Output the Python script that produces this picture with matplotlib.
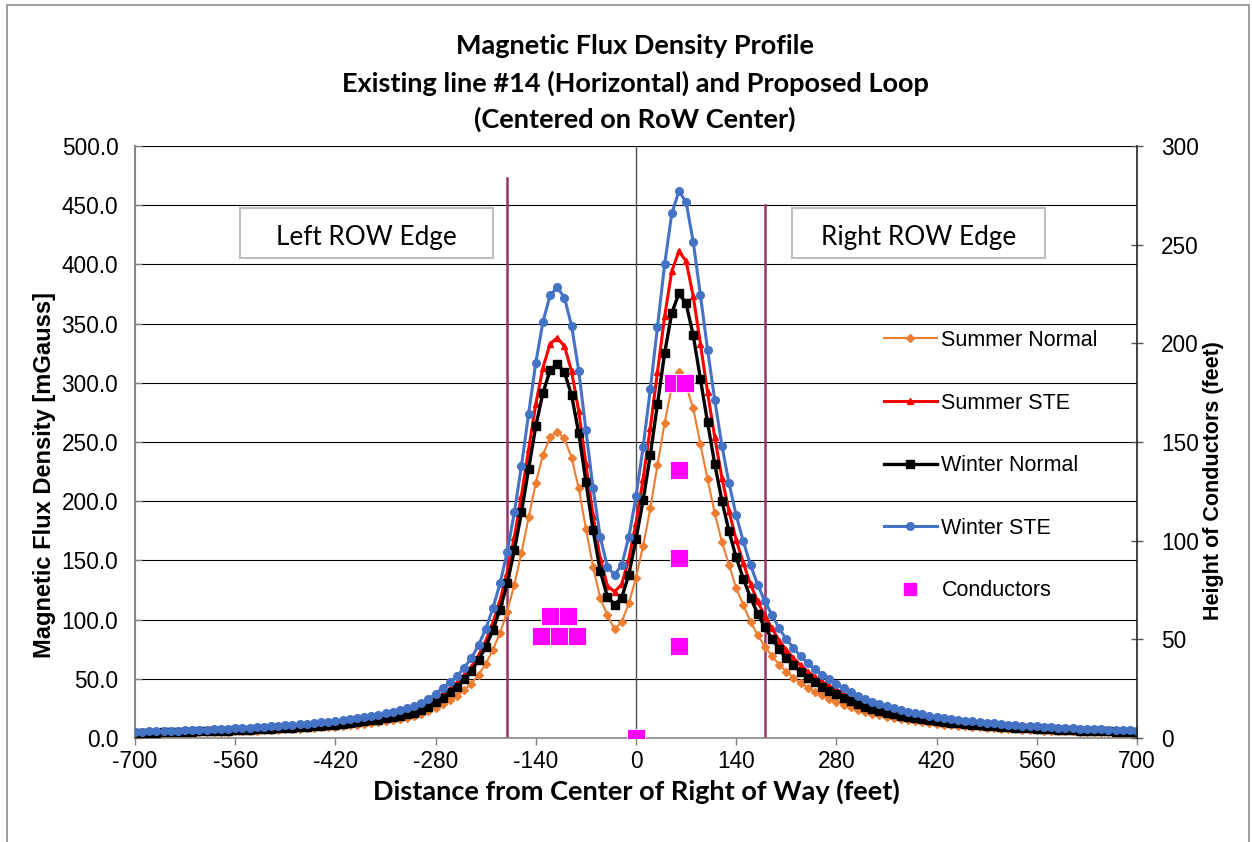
import matplotlib
matplotlib.use("Agg")
import matplotlib.pyplot as plt
from matplotlib.patches import Rectangle
from matplotlib.lines import Line2D

# ---------------- data ----------------
distance_ft = list(range(-700, 701, 10))

summer_normal = [
    3.6, 3.7, 3.8, 3.9, 4.0, 4.1, 4.3, 4.4, 4.6, 4.7,
    4.8, 5.0, 5.2, 5.4, 5.5, 5.7, 5.9, 6.2, 6.4, 6.7,
    6.9, 7.2, 7.5, 7.8, 8.2, 8.5, 8.9, 9.3, 9.7, 10.2,
    10.7, 11.3, 11.9, 12.6, 13.3, 14.1, 15.0, 15.9, 17.0, 18.2,
    19.9, 22.4, 25.5, 28.6, 32.0, 35.7, 40.5, 45.9, 53.4, 62.6,
    74.5, 88.7, 106.8, 129.5, 156.4, 186.3, 215.6, 239.0, 254.3, 258.7,
    253.0, 236.6, 210.8, 176.8, 144.7, 118.0, 104.0, 91.8, 98.0, 113.8,
    135.5, 162.5, 194.0, 230.6, 266.0, 297.0, 309.0, 297.5, 278.5, 248.0,
    218.5, 190.0, 165.8, 146.0, 126.4, 112.3, 98.2, 87.0, 77.0, 69.5,
    62.0, 56.0, 51.0, 46.3, 42.3, 38.9, 35.9, 33.2, 30.8, 28.1,
    25.8, 23.7, 21.9, 20.4, 19.1, 17.9, 16.8, 15.8, 14.9, 14.1,
    13.3, 12.6, 12.0, 11.4, 10.9, 10.3, 9.8, 9.4, 9.0, 8.6,
    8.2, 7.9, 7.6, 7.3, 7.0, 6.8, 6.6, 6.3, 6.1, 5.9,
    5.7, 5.5, 5.3, 5.2, 5.0, 4.8, 4.7, 4.6, 4.4, 4.3,
    4.2]

summer_ste = [
    4.7, 4.8, 5.0, 5.1, 5.2, 5.4, 5.6, 5.8, 5.9, 6.1,
    6.3, 6.5, 6.7, 7.0, 7.2, 7.4, 7.7, 8.1, 8.3, 8.7,
    9.0, 9.4, 9.7, 10.2, 10.6, 11.1, 11.6, 12.1, 12.7, 13.3,
    14.0, 14.7, 15.5, 16.4, 17.3, 18.3, 19.5, 20.7, 22.2, 23.7,
    26.0, 29.3, 33.3, 37.3, 41.8, 46.7, 52.9, 60.0, 69.8, 81.8,
    97.4, 116.1, 139.7, 169.5, 204.7, 243.9, 282.1, 312.8, 332.9, 338.0,
    331.0, 309.7, 275.9, 231.4, 187.8, 151.3, 128.6, 123.5, 129.9, 151.3,
    181.6, 219.0, 262.1, 309.3, 356.0, 394.3, 411.2, 402.7, 372.9, 332.9,
    291.9, 254.1, 219.8, 191.4, 167.3, 147.7, 129.9, 115.3, 102.8, 92.6,
    82.3, 74.3, 67.6, 61.4, 56.1, 51.6, 47.6, 44.1, 40.9, 37.4,
    34.3, 31.4, 29.1, 27.1, 25.4, 23.8, 22.3, 21.0, 19.8, 18.7,
    17.7, 16.7, 15.9, 15.1, 14.4, 13.7, 13.1, 12.5, 11.9, 11.5,
    10.9, 10.5, 10.1, 9.7, 9.3, 9.0, 8.7, 8.4, 8.1, 7.8,
    7.6, 7.3, 7.0, 6.9, 6.6, 6.4, 6.2, 6.1, 5.9, 5.7,
    5.5]

winter_normal = [
    4.2, 4.3, 4.5, 4.6, 4.7, 4.9, 5.0, 5.2, 5.4, 5.5,
    5.7, 5.9, 6.1, 6.3, 6.5, 6.7, 7.0, 7.3, 7.5, 7.8,
    8.2, 8.5, 8.8, 9.2, 9.6, 10.0, 10.5, 11.0, 11.4, 12.0,
    12.6, 13.3, 14.0, 14.8, 15.6, 16.6, 17.6, 18.7, 20.0, 21.4,
    23.4, 26.6, 30.4, 34.2, 38.5, 43.3, 49.5, 56.5, 66.0, 77.0,
    91.0, 108.5, 130.5, 158.5, 190.5, 227.5, 263.5, 291.5, 310.5, 316.0,
    309.0, 289.5, 257.5, 216.5, 175.5, 141.0, 119.5, 112.5, 118.5, 138.0,
    168.0, 201.0, 239.0, 282.0, 325.0, 359.0, 375.5, 367.0, 340.0, 303.5,
    266.5, 231.5, 200.5, 174.5, 152.5, 134.5, 118.5, 105.0, 93.5, 84.0,
    75.0, 67.5, 61.5, 56.0, 51.0, 47.0, 43.3, 40.0, 37.0, 34.0,
    31.0, 28.3, 26.2, 24.4, 22.8, 21.4, 20.0, 18.9, 17.8, 16.8,
    15.9, 15.0, 14.3, 13.6, 13.0, 12.3, 11.8, 11.2, 10.7, 10.3,
    9.8, 9.4, 9.1, 8.7, 8.4, 8.1, 7.8, 7.5, 7.3, 7.0,
    6.8, 6.6, 6.3, 6.2, 5.9, 5.8, 5.6, 5.4, 5.3, 5.1,
    5.0]

winter_ste = [
    5.3, 5.4, 5.6, 5.8, 5.9, 6.1, 6.3, 6.5, 6.7, 6.9,
    7.1, 7.4, 7.6, 7.9, 8.1, 8.4, 8.7, 9.1, 9.4, 9.8,
    10.2, 10.6, 11.0, 11.5, 12.0, 12.5, 13.1, 13.7, 14.3, 15.0,
    15.8, 16.6, 17.5, 18.5, 19.5, 20.7, 22.0, 23.4, 25.0, 26.8,
    29.3, 33.0, 37.5, 42.0, 47.0, 52.5, 59.5, 67.5, 78.5, 92.0,
    109.5, 130.5, 157.0, 190.5, 230.0, 274.0, 317.0, 351.5, 374.0, 380.5,
    372.0, 348.0, 310.0, 260.0, 211.0, 170.0, 144.5, 138.0, 146.0, 170.0,
    204.0, 246.0, 294.5, 347.5, 400.0, 443.0, 462.0, 452.5, 419.0, 374.0,
    328.0, 285.5, 247.0, 215.0, 188.0, 166.0, 146.0, 129.5, 115.5, 104.0,
    92.5, 83.5, 76.0, 69.0, 63.0, 58.0, 53.5, 49.5, 46.0, 42.0,
    38.5, 35.3, 32.7, 30.5, 28.5, 26.7, 25.0, 23.6, 22.2, 21.0,
    19.9, 18.8, 17.9, 17.0, 16.2, 15.4, 14.7, 14.0, 13.4, 12.9,
    12.3, 11.8, 11.4, 10.9, 10.5, 10.1, 9.8, 9.4, 9.1, 8.8,
    8.5, 8.2, 7.9, 7.7, 7.4, 7.2, 7.0, 6.8, 6.6, 6.4,
    6.2]

conductor_x = [-133, -107, -82, -120, -95, 51, 69, 60, 60, 60, 0]
conductor_height = [51.5, 51.5, 51.5, 62, 62, 180, 180, 136, 91, 46.5, 0]

row_edges = [-180, 180]
row_edge_tops = [473, 450]

x_ticks = [-700, -560, -420, -280, -140, 0, 140, 280, 420, 560, 700]
y_left_ticks = [0, 50, 100, 150, 200, 250, 300, 350, 400, 450, 500]
y_right_ticks = [0, 50, 100, 150, 200, 250, 300]

# ---------------- figure ----------------
W, H = 1252, 842
fig = plt.figure(figsize=(W / 100, H / 100), dpi=100)
fig.patch.set_facecolor("white")

# outer chart border
fig.add_artist(Rectangle((7 / W, -0.05), (1249 - 7) / W, 1.05 - 5 / H,
                         transform=fig.transFigure, fill=False,
                         edgecolor="#8c8c8c", lw=1.2))

ax = fig.add_axes([135 / W, 1 - 738 / H, (1137 - 135) / W, (738 - 146) / H])
ax.set_xlim(-700, 700)
ax.set_ylim(0, 500)

# grid
for yv in y_left_ticks[1:]:
    ax.axhline(yv, color="black", lw=0.8, zorder=1)
ax.axvline(0, color="#505050", lw=1.0, zorder=1)

# ROW edge lines
for xe, te in zip(row_edges, row_edge_tops):
    ax.plot([xe, xe], [0, te], color="#993366", lw=1.8, zorder=2)

# series
ax.plot(distance_ft, summer_normal, color="#ED7D31", lw=1.5, marker="D",
        ms=3.6, label="Summer Normal", zorder=3)
ax.plot(distance_ft, summer_ste, color="#FF0000", lw=2.2, marker="^",
        ms=4.5, label="Summer STE", zorder=4)
ax.plot(distance_ft, winter_normal, color="#000000", lw=2.4, marker="s",
        ms=5.2, label="Winter Normal", zorder=5)
ax.plot(distance_ft, winter_ste, color="#4472C4", lw=2.2, marker="o",
        ms=5.5, label="Winter STE", zorder=6)

tick_font = dict(family="Liberation Sans", size=16.3)
ax.set_xticks(x_ticks)
ax.set_xticklabels([str(v) for v in x_ticks], **tick_font)
ax.set_yticks(y_left_ticks)
ax.set_yticklabels([f"{v:.1f}" for v in y_left_ticks], **tick_font)
ax.tick_params(axis="x", direction="out", length=5, width=1, pad=4, color="#808080")
ax.tick_params(axis="y", direction="in", length=5, width=1, pad=12, color="#808080")

for s in ["top", "right"]:
    ax.spines[s].set_visible(False)
ax.spines["left"].set_color("#868686")
ax.spines["left"].set_linewidth(1.5)
ax.spines["bottom"].set_color("#868686")
ax.spines["bottom"].set_linewidth(1.2)

ax.set_xlabel("Distance from Center of Right of Way (feet)",
              family="Lato", weight="bold", size=19.5, labelpad=4)
ax.set_ylabel("Magnetic Flux Density [mGauss]",
              family="Liberation Sans", weight="bold", size=17)
ax.yaxis.set_label_coords((56 - 135) / (1137 - 135), (738 - 475) / (738 - 146))

# secondary axis: conductor heights
ax2 = ax.twinx()
ax2.set_ylim(0, 300)
ax2.set_yticks(y_right_ticks)
ax2.set_yticklabels([str(v) for v in y_right_ticks], **tick_font)
ax2.tick_params(axis="y", direction="inout", length=9, width=1, pad=13, color="#555555")
for s in ["top", "left", "bottom"]:
    ax2.spines[s].set_visible(False)
ax2.spines["right"].set_color("#222222")
ax2.spines["right"].set_linewidth(1.2)
ax2.scatter(conductor_x, conductor_height, marker="s", s=150, color="#FF00FF",
            edgecolors="white", linewidths=0.6, zorder=10, label="Conductors")
ax2.set_ylabel("Height of Conductors (feet)", family="Liberation Sans",
               weight="bold", size=15.5)
ax2.yaxis.set_label_coords((1203 - 135) / (1137 - 135), (738 - 481) / (738 - 146))

# ROW edge boxes
for (x0, x1, label) in [(-553, -200, "Left ROW Edge"), (218, 571, "Right ROW Edge")]:
    ax.add_patch(Rectangle((x0, 405.5), x1 - x0, 447.5 - 405.5, facecolor="white",
                           edgecolor="#bfbfbf", lw=1.5, zorder=7))
    ax.text((x0 + x1) / 2, 422.5, label, ha="center", va="center",
            family="Lato", size=18.8, zorder=8)

# legend
handles = [
    Line2D([], [], color="#ED7D31", lw=1.5, marker="D", ms=3.6),
    Line2D([], [], color="#FF0000", lw=2.2, marker="^", ms=4.5),
    Line2D([], [], color="#000000", lw=2.4, marker="s", ms=5.2),
    Line2D([], [], color="#4472C4", lw=2.2, marker="o", ms=5.5),
    Line2D([], [], color="#FF00FF", lw=0, marker="s", ms=8),
]
labels = ["Summer Normal", "Summer STE", "Winter Normal", "Winter STE", "Conductors"]
leg = ax2.legend(handles, labels, loc="upper left",
                 bbox_to_anchor=(884 / W, 1 - 330 / H), bbox_transform=fig.transFigure,
                 frameon=False, prop=dict(family="Liberation Sans", size=15.5),
                 handlelength=2.45, handletextpad=0.22, labelspacing=1.93,
                 borderpad=0, borderaxespad=0)

# title
title_lines = ["Magnetic Flux Density Profile",
               "Existing line #14 (Horizontal) and Proposed Loop",
               "(Centered on RoW Center)"]
for line, yc in zip(title_lines, [46, 83, 119]):
    fig.text(635 / W, 1 - yc / H, line, ha="center", va="center",
             family="Lato", weight="bold", size=19.5)

fig.savefig("out.png", dpi=100)
